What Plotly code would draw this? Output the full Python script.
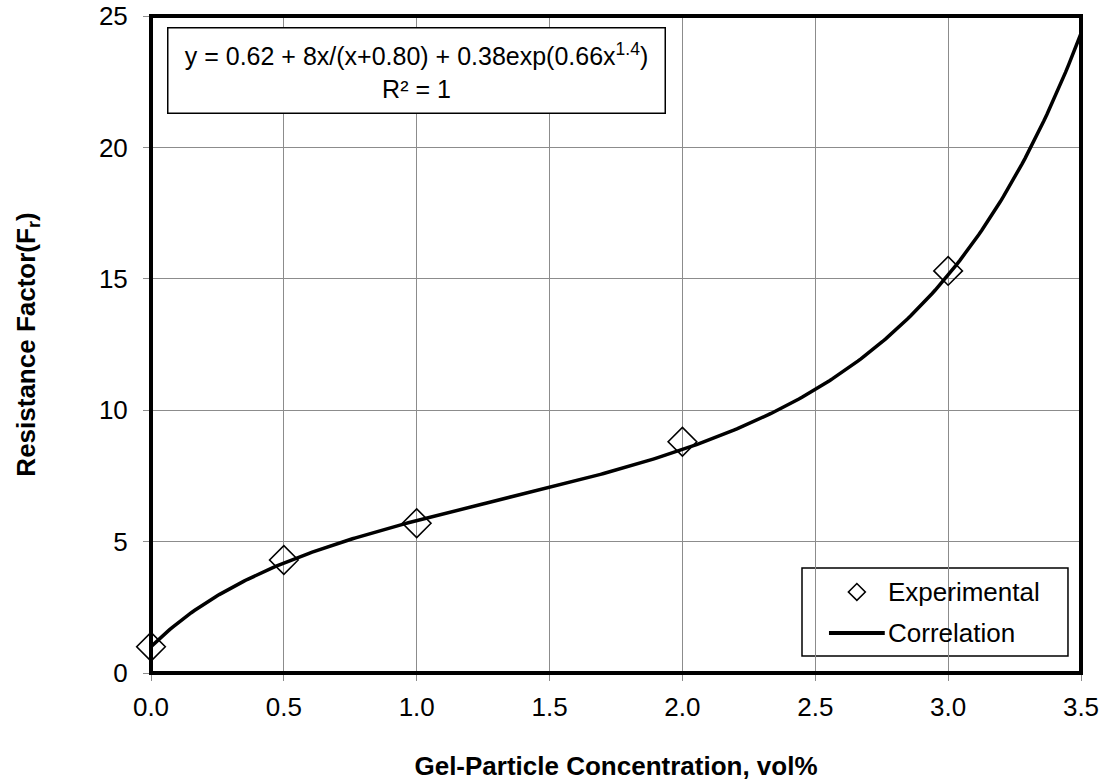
import numpy as np
import plotly.graph_objects as go

# Experimental resistance factor vs gel-particle concentration
conc_vol_pct = [0.0, 0.5, 1.0, 2.0, 3.0]
resistance_factor = [1.0, 4.3, 5.7, 8.8, 15.3]

# Correlation coefficients: y = a + b*x/(x+c) + d*exp(e*x^p)
coef_a, coef_b, coef_c, coef_d, coef_e, coef_p = 0.62, 8.0, 0.80, 0.38, 0.66, 1.4

x_ticks = [0.0, 0.5, 1.0, 1.5, 2.0, 2.5, 3.0, 3.5]
y_ticks = [0, 5, 10, 15, 20, 25]

x_fit = np.linspace(0.0, 3.5, 301)
y_fit = coef_a + coef_b * x_fit / (x_fit + coef_c) + coef_d * np.exp(coef_e * x_fit ** coef_p)

FONT = "Liberation Sans, Arial, sans-serif"
GRID = "#8c8c8c"

fig = go.Figure()
fig.add_trace(go.Scatter(
    x=conc_vol_pct, y=resistance_factor, mode="markers", name="Experimental",
    marker=dict(symbol="diamond-open", size=22, color="black", line=dict(width=1.6)),
    cliponaxis=False, showlegend=False,
))
fig.add_trace(go.Scatter(
    x=x_fit, y=y_fit, mode="lines", name="Correlation",
    line=dict(color="black", width=3.5), showlegend=False,
))

# Legend key drawn in a paper-like overlay axis (0..1 in both directions)
fig.add_trace(go.Scatter(
    x=[0.759], y=[0.1233], mode="markers", xaxis="x2", yaxis="y2",
    marker=dict(symbol="diamond-open", size=13, color="black", line=dict(width=1.6)),
    showlegend=False, hoverinfo="skip", cliponaxis=False,
))

fig.update_layout(
    width=1104, height=782,
    margin=dict(l=151, r=23, t=16, b=109),
    paper_bgcolor="white", plot_bgcolor="white",
    font=dict(family=FONT, size=25, color="black"),
    showlegend=False,
    xaxis=dict(
        range=[0, 3.5], tickvals=x_ticks, ticktext=[f"{v:.1f}" for v in x_ticks],
        showgrid=True, gridcolor=GRID, gridwidth=1,
        ticks="outside", ticklen=6, tickcolor=GRID, ticklabelstandoff=4,
        showline=True, linecolor="#6e6e6e", linewidth=2,
        zeroline=False, automargin=False,
        title=dict(text="<b>Gel-Particle Concentration, vol%</b>", font=dict(size=26), standoff=36),
        tickfont=dict(size=26),
    ),
    yaxis=dict(
        range=[0, 25], tickvals=y_ticks,
        showgrid=True, gridcolor=GRID, gridwidth=1,
        ticks="outside", ticklen=6, tickcolor=GRID, ticklabelstandoff=10,
        showline=True, linecolor="#6e6e6e", linewidth=2,
        zeroline=False, automargin=False,
        title=dict(text="<b>Resistance Factor(F<sub>r</sub>)</b>", font=dict(size=26), standoff=56),
        tickfont=dict(size=26),
    ),
    xaxis2=dict(overlaying="x", anchor="y2", range=[0, 1], visible=False, fixedrange=True),
    yaxis2=dict(overlaying="y", anchor="x2", range=[0, 1], visible=False, fixedrange=True),
)

# Heavy frame around the plotting area
fig.add_shape(type="rect", xref="paper", yref="paper", x0=0, y0=0, x1=1, y1=1,
              line=dict(color="black", width=4), layer="above")

# Legend box (above gridlines, below traces), line key and labels
fig.add_shape(type="rect", xref="paper", yref="paper", x0=0.700, y0=0.0259, x1=0.986, y1=0.1598,
              line=dict(color="black", width=1.5), fillcolor="white", layer="between")
fig.add_shape(type="line", xref="paper", yref="paper", x0=0.729, y0=0.0609, x1=0.789, y1=0.0609,
              line=dict(color="black", width=4), layer="above")
for label, ypos in [("Experimental", 0.1233), ("Correlation", 0.0609)]:
    fig.add_annotation(xref="paper", yref="paper", x=0.7905, y=ypos, xanchor="left", yanchor="middle",
                       text=label, showarrow=False, font=dict(size=26, family=FONT, color="black"))

# Correlation equation box
fig.add_annotation(
    xref="paper", yref="paper", x=0.0172, y=0.983, xanchor="left", yanchor="top",
    text="y = 0.62 + 8x/(x+0.80) + 0.38exp(0.66x<sup>1.4</sup>)<br>R² = 1",
    showarrow=False, align="center",
    font=dict(size=25, family=FONT, color="black"),
    bordercolor="black", borderwidth=1.5, bgcolor="white",
    borderpad=10, width=476,
)

fig.write_html("out.html")
